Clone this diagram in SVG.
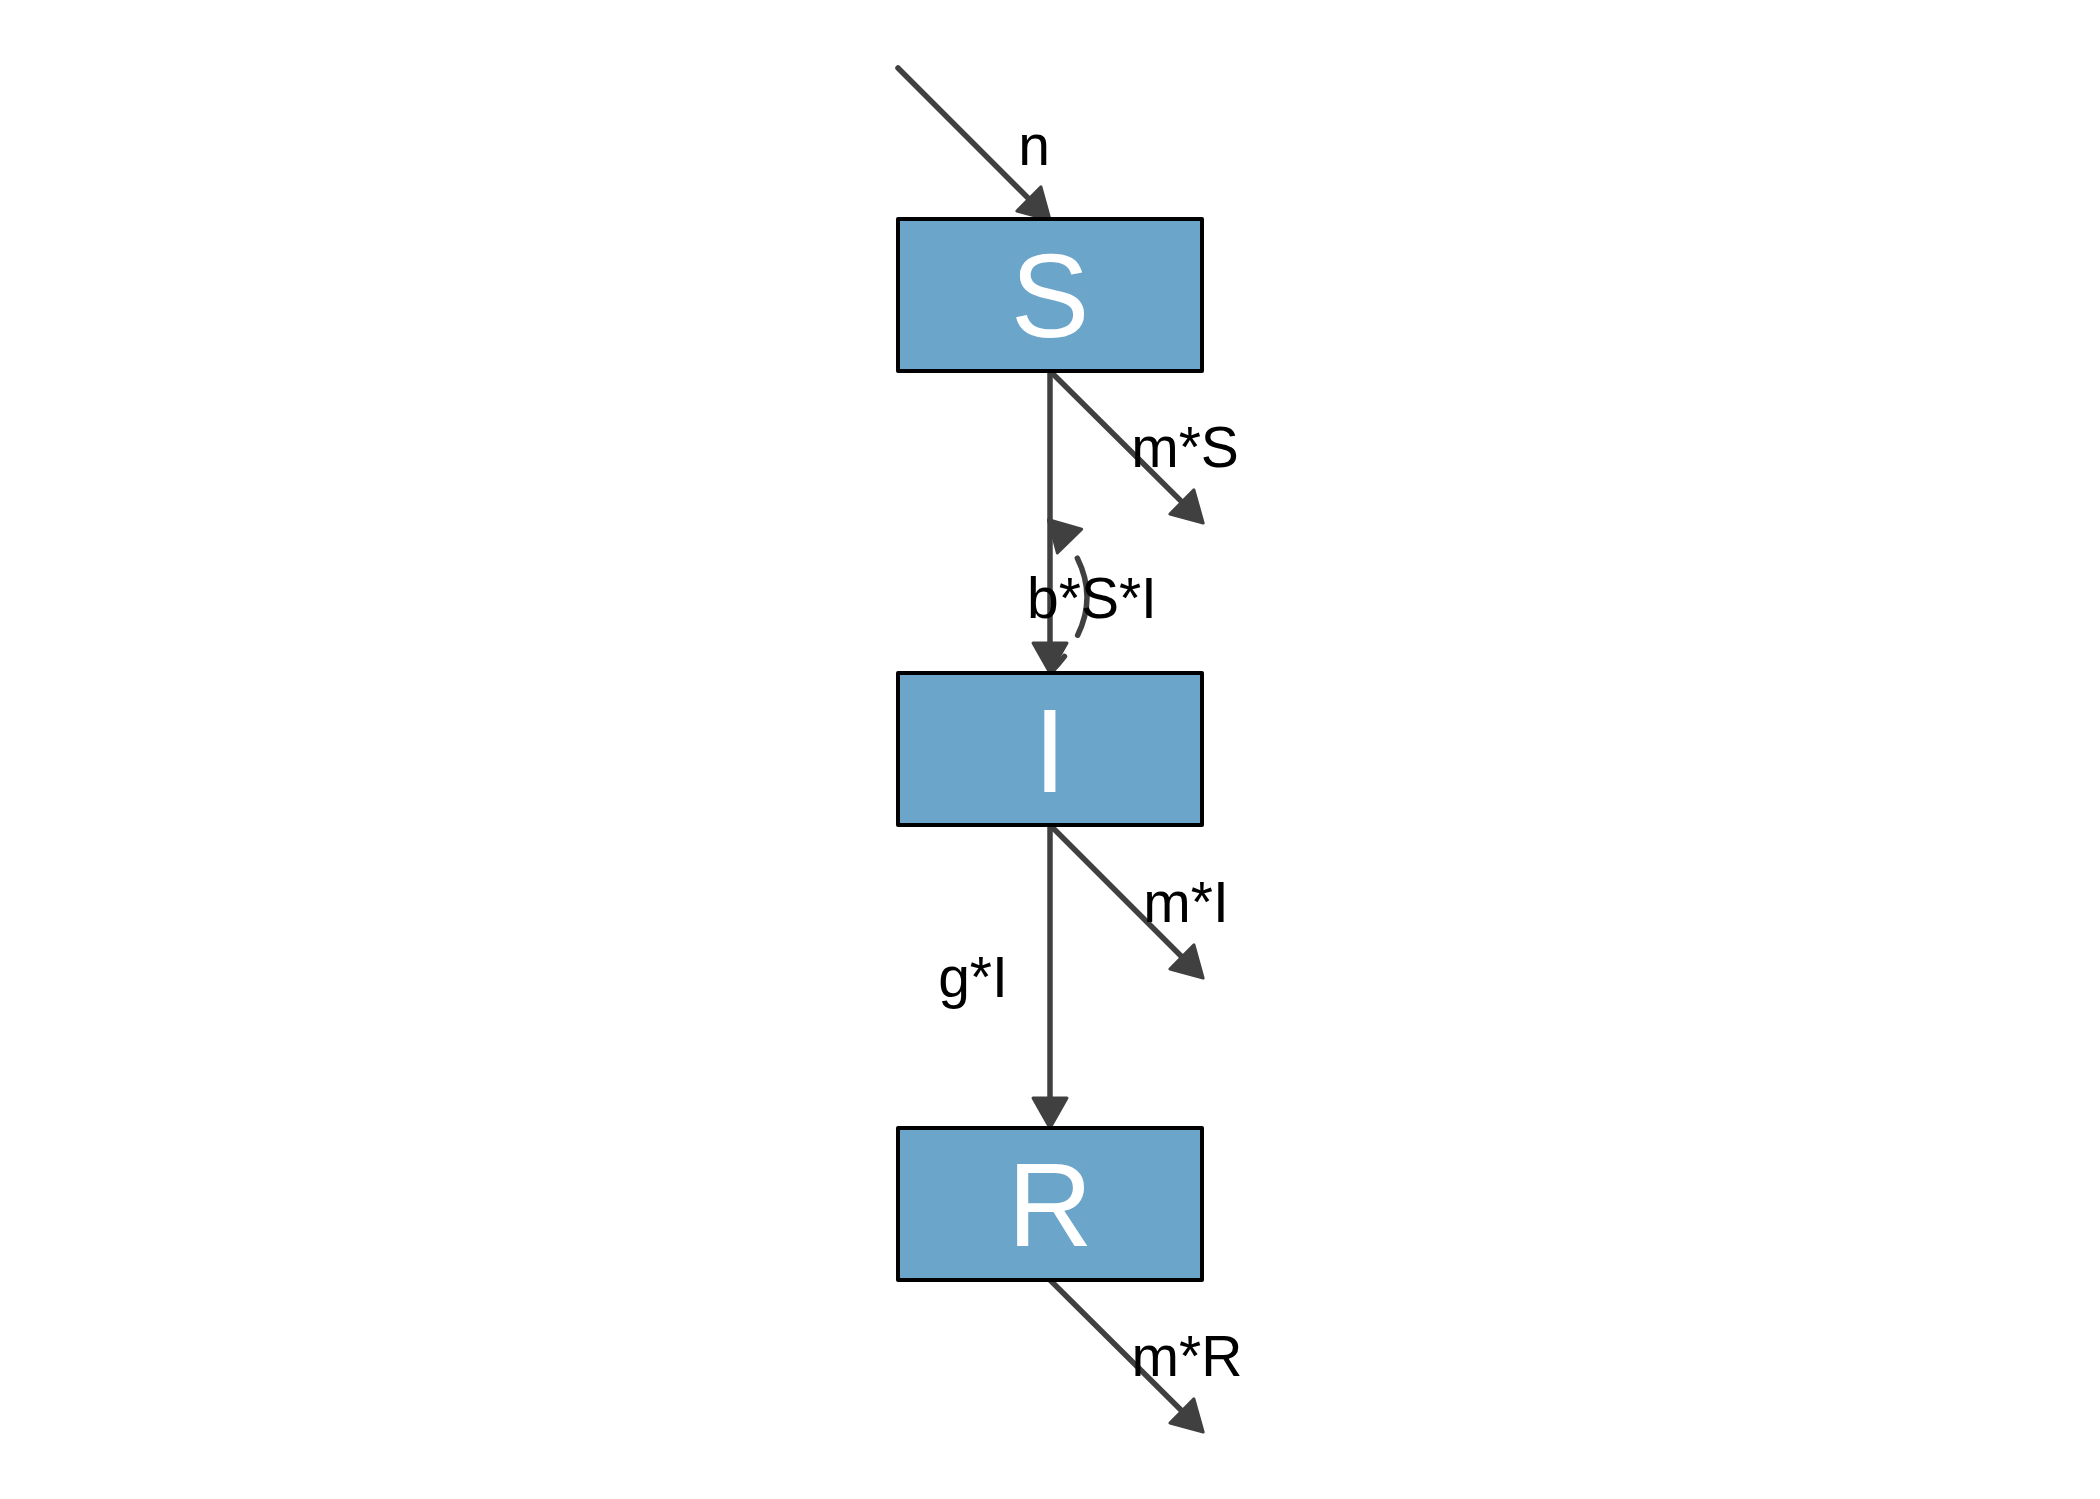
<svg xmlns="http://www.w3.org/2000/svg" width="2100" height="1499" viewBox="0 0 2100 1499">
<style>
.node rect{fill:#6BA5CA;stroke:#000;stroke-width:4;stroke-linejoin:round}
.node text{font-family:"Liberation Sans",Arial,sans-serif;font-size:118px;fill:#fff;text-anchor:middle}
.flow{fill:none;stroke:#404040;stroke-width:5.5;stroke-linecap:round}
.dash{fill:none;stroke:#404040;stroke-width:5.5;stroke-dasharray:80 25;stroke-dashoffset:58;stroke-linecap:round}
.lbl{font-family:"Liberation Sans",Arial,sans-serif;font-size:57px;fill:#000;text-anchor:middle}
</style>
<defs>
<marker id="ah" markerUnits="userSpaceOnUse" viewBox="-3 -3 36 40" markerWidth="36" markerHeight="40" refX="10" refY="17" orient="auto">
<path d="M0,0 L30,17 L0,34 Z" fill="#404040" stroke="#404040" stroke-width="3" stroke-linejoin="round"/>
</marker>
<marker id="ah2" markerUnits="userSpaceOnUse" viewBox="-3 -3 36 40" markerWidth="36" markerHeight="40" refX="28" refY="17" orient="auto">
<path d="M0,0 L30,17 L0,34 Z" fill="#404040" stroke="#404040" stroke-width="3" stroke-linejoin="round"/>
</marker>
</defs>
<rect width="2100" height="1499" fill="#fff"/>
<g id="connectors">
<path class="flow" d="M898,68 L1036,206" marker-end="url(#ah)"/>
<path class="dash" d="M1050,673 Q1124,597 1050,521" marker-end="url(#ah2)"/>
<path class="flow" d="M1050,371 L1050,653" marker-end="url(#ah)"/>
<path class="flow" d="M1050,371 L1189,509" marker-end="url(#ah)"/>
<path class="flow" d="M1050,825 L1050,1108" marker-end="url(#ah)"/>
<path class="flow" d="M1050,825 L1189,964" marker-end="url(#ah)"/>
<path class="flow" d="M1050,1280 L1189,1418" marker-end="url(#ah)"/>
</g>
<g id="labels">
<text class="lbl" x="1034" y="165">n</text>
<text class="lbl" x="1185" y="467">m*S</text>
<text class="lbl" x="1092" y="618">b*S*I</text>
<text class="lbl" x="1186" y="922">m*I</text>
<text class="lbl" x="973" y="997">g*I</text>
<text class="lbl" x="1187" y="1376">m*R</text>
</g>
<g id="node-S" class="node">
<rect x="898" y="219" width="304" height="152"/>
<text x="1050" y="337">S</text>
</g>
<g id="node-I" class="node">
<rect x="898" y="673" width="304" height="152"/>
<text x="1050" y="792">I</text>
</g>
<g id="node-R" class="node">
<rect x="898" y="1128" width="304" height="152"/>
<text x="1050" y="1246">R</text>
</g>
</svg>
